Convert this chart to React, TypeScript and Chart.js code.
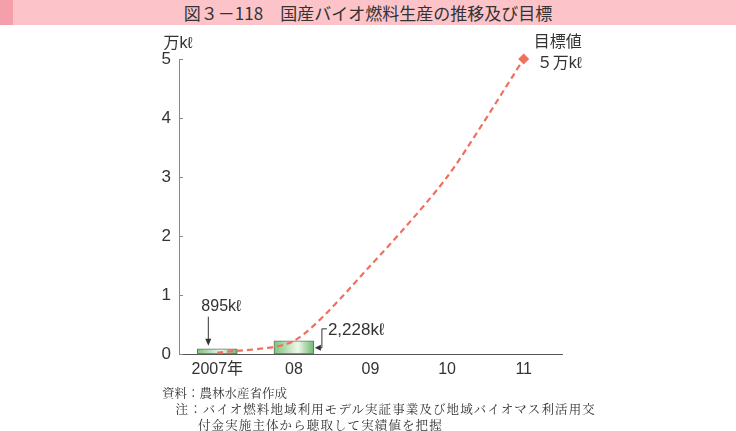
import React, { useEffect, useRef } from "react";
import { Chart, registerables } from "chart.js";

Chart.register(...registerables);

const categories = ["2007年", "08", "09", "10", "11"];
const barValues = [0.0895, 0.2228, null, null, null];
const lineValues = [0.02, 0.2228, 1.5, 3.0, 5.0];
const yTicks = [0, 1, 2, 3, 4, 5];
const barLabels = ["895kℓ", "2,228kℓ"];
const targetLabels = ["目標値", "５万kℓ"];
const unitLabel = "万kℓ";
const title = "図３－118　国産バイオ燃料生産の推移及び目標";
const notes = [
  "資料：農林水産省作成",
  "　注：バイオ燃料地域利用モデル実証事業及び地域バイオマス利活用交",
  "付金実施主体から聴取して実績値を把握",
];

const FONT = "'Liberation Sans', 'Noto Sans CJK JP', sans-serif";
const TEXT = "#333333";
const LINE = "#f0705f";

const annotations = {
  id: "annotations",
  afterDatasetsDraw(chart: any) {
    const { ctx, scales } = chart;
    const x = scales.x;
    const y = scales.y;
    ctx.save();
    // inner ticks on y axis
    ctx.strokeStyle = "#888888";
    ctx.lineWidth = 1;
    yTicks.forEach((t) => {
      const py = Math.round(y.getPixelForValue(t)) + 0.5;
      ctx.beginPath();
      ctx.moveTo(x.left, py);
      ctx.lineTo(x.left + 4, py);
      ctx.stroke();
    });

    ctx.fillStyle = TEXT;
    ctx.strokeStyle = "#333333";
    ctx.font = `15px ${FONT}`;
    ctx.textBaseline = "middle";

    // 895kl label with down arrow
    const x0 = x.getPixelForValue(0);
    const y0 = y.getPixelForValue(barValues[0] as number);
    ctx.textAlign = "center";
    ctx.font = `16px ${FONT}`;
    ctx.fillText(barLabels[0], x0 + 4, y0 - 42);
    const ax = x0 - 9;
    ctx.beginPath();
    ctx.moveTo(ax, y0 - 32);
    ctx.lineTo(ax, y0 - 6);
    ctx.stroke();
    ctx.beginPath();
    ctx.moveTo(ax - 3, y0 - 10);
    ctx.lineTo(ax, y0 - 3);
    ctx.lineTo(ax + 3, y0 - 10);
    ctx.closePath();
    ctx.fill();

    // 2,228kl label with elbow arrow
    const x1 = x.getPixelForValue(1);
    const y1 = y.getPixelForValue(barValues[1] as number);
    const barRight = x1 + 20;
    ctx.textAlign = "left";
    ctx.font = `17px ${FONT}`;
    ctx.fillText(barLabels[1], barRight + 14, y1 - 11);
    const ex = barRight + 8;
    ctx.beginPath();
    ctx.moveTo(ex + 5, y1 - 12);
    ctx.lineTo(ex, y1 - 12);
    ctx.lineTo(ex, y1 + 7);
    ctx.lineTo(barRight + 4, y1 + 7);
    ctx.stroke();
    ctx.beginPath();
    ctx.moveTo(barRight + 7, y1 + 4);
    ctx.lineTo(barRight + 1, y1 + 7);
    ctx.lineTo(barRight + 7, y1 + 10);
    ctx.closePath();
    ctx.fill();

    // target labels
    const x4 = x.getPixelForValue(4);
    const y4 = y.getPixelForValue(lineValues[4]);
    ctx.font = `16px ${FONT}`;
    ctx.textAlign = "left";
    ctx.fillText(targetLabels[0], x4 + 10, y4 - 16);
    ctx.fillText(targetLabels[1], x4 + 13, y4 + 5);

    // unit label
    ctx.textAlign = "center";
    ctx.fillText(unitLabel, x.left - 1, y.top - 15);
    ctx.restore();
  },
};

export default function App() {
  const ref = useRef<HTMLCanvasElement>(null);
  useEffect(() => {
    if (!ref.current) return;
    const chart = new Chart(ref.current, {
      type: "bar",
      data: {
        labels: categories,
        datasets: [
          {
            type: "line",
            data: lineValues,
            borderColor: LINE,
            backgroundColor: LINE,
            borderWidth: 2.2,
            borderDash: [6, 4],
            tension: 0.25,
            clip: false,
            pointStyle: "rectRot",
            pointRadius: (c: any) => (c.dataIndex === 4 ? 5.5 : 0),
            pointBorderWidth: 0,
            order: 0,
          } as any,
          {
            type: "bar",
            data: barValues,
            barThickness: 40,
            borderColor: "#6e6e6e",
            borderWidth: 1,
            borderSkipped: false,
            backgroundColor: (c: any) => {
              const ch = c.chart;
              const fallback = "#a8d9a6";
              if (!ch.chartArea || !ch.scales || !ch.scales.x || c.dataIndex === undefined) return fallback;
              const cx = ch.scales.x.getPixelForValue(c.dataIndex);
              if (!Number.isFinite(cx)) return fallback;
              const g = ch.ctx.createLinearGradient(cx - 20, 0, cx + 20, 0);
              g.addColorStop(0, "#7cc47a");
              g.addColorStop(0.6, "#eef8ec");
              g.addColorStop(1, "#6cb86a");
              return g;
            },
            order: 1,
          } as any,
        ],
      },
      options: {
        responsive: false,
        animation: false,
        layout: { padding: { left: 0, right: 174, top: 59, bottom: 47 } },
        plugins: { legend: { display: false }, tooltip: { enabled: false } },
        scales: {
          x: {
            type: "category",
            offset: true,
            grid: { display: false, drawTicks: false },
            border: { display: true, color: "#555555", width: 1 },
            ticks: { color: TEXT, font: { size: 16, family: FONT }, padding: 6 },
            afterFit: (s: any) => {
              s.height = 30;
            },
          },
          y: {
            min: 0,
            max: 5,
            grid: { display: false, drawTicks: false },
            border: { display: true, color: "#888888", width: 1 },
            ticks: {
              stepSize: 1,
              color: TEXT,
              font: { size: 17, family: FONT },
              padding: 8,
            },
            afterFit: (s: any) => {
              s.width = 179;
            },
          },
        },
      },
      plugins: [annotations],
    });
    return () => chart.destroy();
  }, []);

  return (
    <div style={{ position: "absolute", left: 0, top: 0, width: 736, height: 431, background: "#fff" }}>
      <div
        style={{
          position: "absolute",
          left: 0,
          top: 0,
          width: 736,
          height: 25,
          background: "#fcc4c9",
        }}
      />
      <div style={{ position: "absolute", left: 0, top: 0, width: 13, height: 25, background: "#f59faa" }} />
      <div
        style={{
          position: "absolute",
          left: 0,
          top: 0,
          width: 736,
          height: 25,
          lineHeight: "25px",
          textAlign: "center",
          font: `17px 'Noto Sans CJK JP', sans-serif`,
          color: "#333",
        }}
      >
        {title}
      </div>
      <canvas ref={ref} width={736} height={431} style={{ position: "absolute", left: 0, top: 0, width: 736, height: 431 }} />
      <div
        style={{
          position: "absolute",
          left: 162,
          top: 385,
          font: `12.5px 'Noto Serif CJK JP', 'Noto Sans CJK JP', serif`,
          color: "#333",
          lineHeight: "16px",
          whiteSpace: "pre",
        }}
      >
        <div>{notes[0]}</div>
        <div style={{ letterSpacing: "1.1px" }}>{notes[1]}</div>
        <div style={{ paddingLeft: 36, letterSpacing: "1.1px" }}>{notes[2]}</div>
      </div>
    </div>
  );
}
